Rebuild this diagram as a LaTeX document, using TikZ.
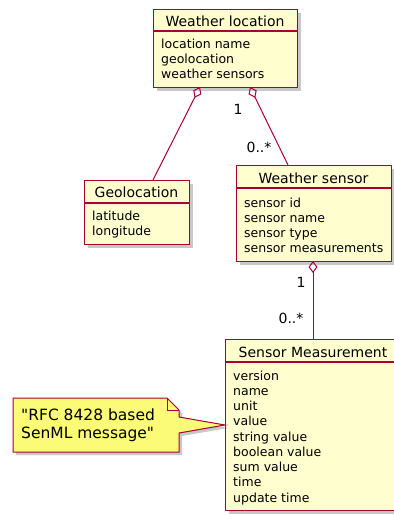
\documentclass[tikz,border=0pt]{standalone}
\usepackage{fontspec}
\setmainfont{DejaVu Sans}
\usetikzlibrary{shadows,arrows.meta}
\definecolor{clsfill}{HTML}{FEFECE}
\definecolor{umlred}{HTML}{A80036}
\definecolor{notefill}{HTML}{FBFB77}
\newcommand{\attrlines}[1]{\vtop{\baselineskip=15.25pt\lineskiplimit=-10pt #1}}
\tikzset{
 shadowed/.style={drop shadow={shadow xshift=3pt,shadow yshift=-3pt,opacity=0.3,fill=black!70}},
 cls/.style={draw=umlred, fill=clsfill, line width=1.3pt, shadowed, rectangle, inner sep=0pt, anchor=north west},
 sepline/.style={draw=umlred, line width=1.3pt},
 ctitle/.style={font=\fontsize{14}{16}\selectfont, anchor=base, inner sep=0pt},
 attrs/.style={font=\fontsize{12.5}{15.25}\selectfont, anchor=base west, inner sep=0pt},
 aggr/.style={draw=umlred, line width=1pt, {Diamond[open, length=12pt, width=9pt, line width=1pt]}-},
 mult/.style={font=\fontsize{14}{16}\selectfont, inner sep=0pt},
 notebox/.style={draw=umlred, fill=notefill, line width=1pt, shadowed, line join=miter},
 notetext/.style={font=\fontsize{15.5}{18}\selectfont, anchor=base west, inner sep=0pt},
}
\begin{document}
\begin{tikzpicture}[x=1pt,y=-1pt]
\useasboundingbox (0,0) rectangle (394,515);
\fill[white] (0,0) rectangle (394,515);

% Weather location
\node[cls, minimum width=144pt, minimum height=78pt] (wl) at (153,9) {};
\draw[sepline] (wl.west |- 0,31) -- (wl.east |- 0,31);
\node[ctitle] (wlt) at (225,26) {Weather location};
\node[attrs] (wla) at (161,48) {\attrlines{\hbox{location name}\hbox{geolocation}\hbox{weather sensors}}};

% Geolocation
\node[cls, minimum width=105pt, minimum height=64pt] (geo) at (84,180) {};
\draw[sepline] (geo.west |- 0,203) -- (geo.east |- 0,203);
\node[ctitle] (geot) at (136.5,197) {Geolocation};
\node[attrs] (geoa) at (92,220) {\attrlines{\hbox{latitude}\hbox{longitude}}};

% Weather sensor
\node[cls, minimum width=155pt, minimum height=96pt] (ws) at (236,165) {};
\draw[sepline] (ws.west |- 0,188) -- (ws.east |- 0,188);
\node[ctitle] (wst) at (313.5,183) {Weather sensor};
\node[attrs] (wsa) at (244,207) {\attrlines{\hbox{sensor id}\hbox{sensor name}\hbox{sensor type}\hbox{sensor measurements}}};

% Sensor Measurement
\node[cls, minimum width=176pt, minimum height=171pt] (sm) at (225,339) {};
\draw[sepline] (sm.west |- 0,362) -- (sm.east |- 0,362);
\node[ctitle] (smt) at (313,357) {Sensor Measurement};
\node[attrs] (sma) at (233,380) {\attrlines{\hbox{version}\hbox{name}\hbox{unit}\hbox{value}\hbox{string value}\hbox{boolean value}\hbox{sum value}\hbox{time}\hbox{update time}}};

% connector end points
\coordinate (wl-g) at (200,87);
\coordinate (geo-top) at (153,180);
\coordinate (wl-s) at (250,87);
\coordinate (ws-top) at (288,165);
\coordinate (ws-b) at (313,261);
\coordinate (sm-top) at (313,339);
\coordinate (sm-value) at (225,425);

\draw[aggr] (wl-g) -- (geo-top);
\draw[aggr] (wl-s) -- (ws-top);
\draw[aggr] (ws-b) -- (sm-top);

\node[mult] (m1) at (238,109) {1};
\node[mult] (m2) at (259,147) {0..*};
\node[mult] (m3) at (301,282) {1};
\node[mult] (m4) at (291,318) {0..*};

% Note
\draw[notebox] (13,398) -- (167,398) -- (179,410) -- (179,417) -- (sm-value) -- (179,433) -- (179,452) -- (13,452) -- cycle;
\draw[umlred, line width=1pt] (167,398) -- (167,410) -- (179,410);
\node[notetext] (note) at (21,420) {\vtop{\baselineskip=18pt\hbox{\textquotedbl RFC 8428 based}\hbox{SenML message\textquotedbl}}};
\end{tikzpicture}
\end{document}
